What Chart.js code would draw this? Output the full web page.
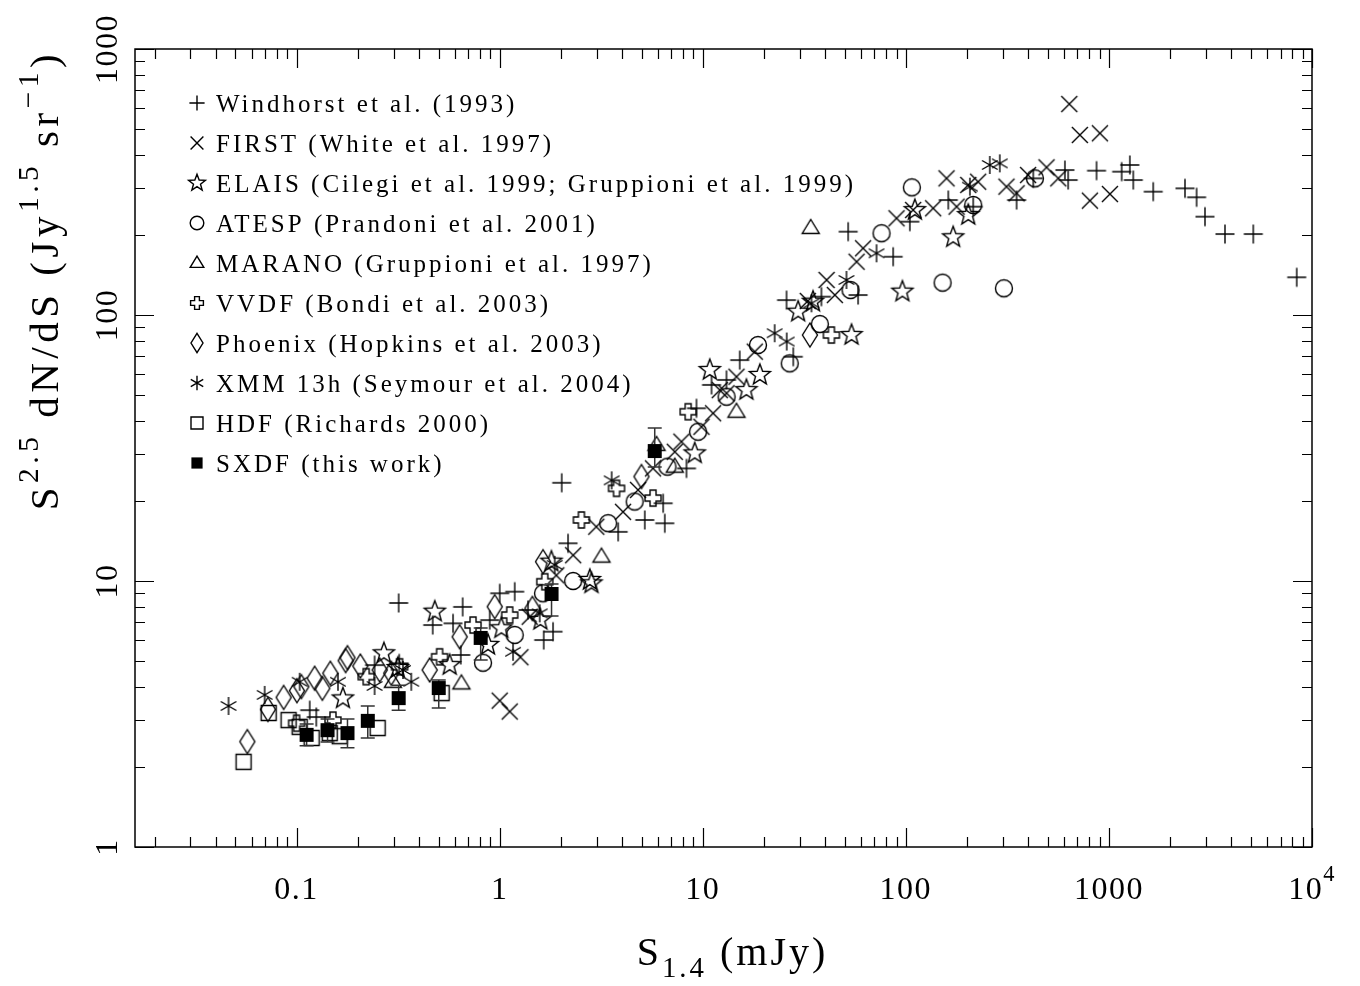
<!DOCTYPE html>
<html>
  <head>
    <meta charset="utf-8">
    <style type="text/css">
      body { margin: 0; background: #fff; }
      .chart-container { width: 1360px; height: 986px; }
    </style>
  </head>
  <body>
    <script src="https://cdn.jsdelivr.net/npm/chart.js@4.4.1/dist/chart.umd.min.js"></script>

    <div class="chart-container">
      <canvas id="countsChart" width="1360" height="986"></canvas>
    </div>

    <script>
      /* source counts, S (mJy) against S^2.5 dN/dS */
      const windhorstX = [0.318, 2.02, 0.468, 0.657, 0.589, 1.0, 1.186, 0.643, 0.893, 1.379, 1.647, 1.831, 0.116, 0.125, 0.242, 0.32,
        2.17, 5.18, 6.50, 6.38, 8.31, 3.83, 11.04, 9.31, 52.0, 86.6, 25.85, 15.2, 13.08, 38.4, 58.2, 27.9, 161.8, 104.6, 214.7,
        351, 424, 607, 630, 869, 1155, 1268, 1318, 1652, 2368, 2703, 2972, 3727, 5139, 8407];
      const windhorstY = [8.27, 23.4, 6.83, 7.99, 6.93, 8.99, 9.12, 5.27, 7.13, 7.78, 6.0, 6.45, 3.27, 3.08, 4.83, 4.9,
        13.86, 16.96, 16.48, 19.6, 26.5, 15.3, 54.6, 44.6, 205.7, 165.6, 113.8, 67.7, 57.0, 117.2, 118.9, 69.7, 270.5, 224.3, 255.4,
        270.5, 326.4, 350.8, 321.7, 348.8, 345.8, 366.4, 321.7, 290.8, 299.4, 277, 234.3, 201.6, 201.6, 138.6];

      const firstX = [1.0, 1.12, 1.265, 1.405, 1.90, 2.30, 2.99, 4.05, 4.80, 5.69, 7.28, 7.85, 9.85, 11.24, 13.09, 12.13, 14.65, 18.04,
        40.7, 44.7, 61.6, 57.2, 90.0, 108.6, 136.3, 32.9, 158.6, 177.8, 203, 227, 313, 351, 400, 493, 563, 638, 719, 903, 806, 1011];
      const firstY = [3.55, 3.23, 5.17, 7.34, 10.5, 12.5, 16.0, 18.2, 22.0, 26.5, 30.6, 33.4, 38.0, 42.7, 50.8, 52.2, 58.6, 72.8,
        135.4, 118.9, 178.2, 158.6, 231, 248.2, 251.9, 112.9, 326.4, 255.4, 308.2, 317, 303.7, 286.8, 335.9, 359, 326.4, 621, 475, 482, 269, 285];

      const elaisX = [0.479, 0.567, 0.876, 1.019, 1.587, 2.83, 0.269, 0.169, 0.315, 1.797, 2.78, 9.13, 10.83, 19.1, 16.4, 29.5,
        54.0, 96.2, 110.7, 171, 34.9, 203];
      const elaisY = [7.67, 4.83, 5.75, 6.64, 7.14, 9.8, 5.35, 3.62, 4.71, 11.82, 10.09, 30.2, 62.1, 59.5, 52.2, 102.9,
        84.1, 122.4, 248, 196, 112.2, 237.6];

      const atespX = [107, 151.7, 304, 214.7, 432, 75.9, 53.4, 37.7, 18.7, 26.8, 13.1, 9.48, 6.7, 4.62, 3.42, 2.3, 1.635, 1.186, 0.828];
      const atespY = [302, 132.3, 126, 259.2, 326.4, 203, 124.1, 92.5, 77.1, 65.8, 49.3, 36.4, 26.9, 19.9, 16.5, 10.0, 8.99, 6.27, 4.93];

      const maranoX = [34.0, 0.648, 3.17, 7.28, 14.65, 5.92, 0.298];
      const maranoY = [212.5, 4.12, 12.35, 26.9, 43.3, 32.5, 4.18];

      const vvdfX = [0.100, 0.151, 0.220, 0.3215, 0.506, 0.739, 1.12, 1.667, 3.76, 2.525, 5.69, 8.47, 43.0];
      const vvdfY = [2.92, 3.00, 4.37, 4.76, 5.19, 6.83, 7.45, 9.94, 22.3, 16.96, 20.5, 43.3, 84.1];

      const phoenixX = [0.0572, 0.0722, 0.0863, 0.1003, 0.1055, 0.1227, 0.1339, 0.1466, 0.1743, 0.178, 0.206, 0.2564, 0.2926,
        0.452, 0.635, 0.945, 1.449, 1.634, 4.99, 33.7];
      const phoenixY = [2.49, 3.29, 3.65, 3.87, 4.01, 4.31, 3.95, 4.50, 5.02, 5.15, 4.79, 4.63, 4.50,
        4.63, 6.17, 8.01, 7.89, 11.82, 24.7, 84.1];

      const xmmX = [0.0462, 0.0696, 0.1035, 0.1598, 0.242, 0.334, 0.367, 1.163, 1.574, 1.866, 3.56, 22.6, 25.9, 51.0, 71.7, 34.3,
        206.7, 259, 290];
      const xmmY = [3.39, 3.73, 4.18, 4.18, 4.03, 4.63, 4.18, 5.42, 7.56, 11.5, 23.9, 85.4, 79.5, 135.4, 170.6, 110.7,
        303.7, 366.4, 371.6];

      const hdfX = [0.0548, 0.0728, 0.0913, 0.1035, 0.1186, 0.1455, 0.163, 0.2507, 0.518];
      const hdfY = [2.09, 3.19, 3.00, 2.83, 2.57, 2.68, 2.61, 2.80, 3.79];

      const sxdfX = [0.112, 0.142, 0.178, 0.224, 0.318, 0.501, 0.806, 1.80, 5.80];
      const sxdfY = [2.64, 2.75, 2.68, 2.98, 3.63, 3.96, 6.11, 8.94, 30.8];
      const sxdfLo = [2.40, 2.48, 2.36, 2.57, 3.27, 3.33, 5.05, 7.39, 26.8];
      const sxdfHi = [2.90, 3.03, 3.03, 3.39, 4.06, 4.24, 6.66, 9.75, 37.6];

      const xTickValues = [0.1, 1, 10, 100, 1000, 10000];
      const xTickLabels = ['0.1', '1', '10', '100', '1000', '10^4'];
      const yTickValues = [1, 10, 100, 1000];
      const yTickLabels = ['1', '10', '100', '1000'];

      const FONT = '"Liberation Serif", serif';

      /* marker glyphs, drawn once into small canvases and used as point styles */
      const glyphs = {
        plus(c, k) { c.moveTo(-9.5 * k, 0); c.lineTo(9.5 * k, 0); c.moveTo(0, -9.5 * k); c.lineTo(0, 9.5 * k); c.stroke(); },
        times(c, k) { const a = 8 * k; c.moveTo(-a, -a); c.lineTo(a, a); c.moveTo(a, -a); c.lineTo(-a, a); c.stroke(); },
        star(c, k) {
          for (let i = 0; i < 10; i++) {
            const r = (i % 2 ? 4.6 : 11) * k, t = -Math.PI / 2 + i * Math.PI / 5;
            i ? c.lineTo(r * Math.cos(t), r * Math.sin(t)) : c.moveTo(r * Math.cos(t), r * Math.sin(t));
          }
          c.closePath(); c.stroke();
        },
        circle(c, k) { c.arc(0, 0, 8.5 * k, 0, Math.PI * 2); c.stroke(); },
        triangle(c, k) { c.moveTo(0, -8.5 * k); c.lineTo(8.5 * k, 5.5 * k); c.lineTo(-8.5 * k, 5.5 * k); c.closePath(); c.stroke(); },
        greek(c, k) {
          const a = 8 * k, b = 3 * k;
          const pts = [[-b, -a], [b, -a], [b, -b], [a, -b], [a, b], [b, b], [b, a], [-b, a], [-b, b], [-a, b], [-a, -b], [-b, -b]];
          pts.forEach((p, i) => i ? c.lineTo(p[0], p[1]) : c.moveTo(p[0], p[1]));
          c.closePath(); c.stroke();
        },
        diamond(c, k) { c.moveTo(0, -12 * k); c.lineTo(7.5 * k, 0); c.lineTo(0, 12 * k); c.lineTo(-7.5 * k, 0); c.closePath(); c.stroke(); },
        asterisk(c, k) {
          [90, 30, 150].forEach(d => {
            const t = d * Math.PI / 180, r = 9 * k;
            c.moveTo(-r * Math.cos(t), -r * Math.sin(t)); c.lineTo(r * Math.cos(t), r * Math.sin(t));
          });
          c.stroke();
        },
        square(c, k) { c.rect(-7.5 * k, -7.5 * k, 15 * k, 15 * k); c.stroke(); },
        filled(c, k) { c.rect(-7 * k, -7 * k, 14 * k, 14 * k); c.fill(); }
      };

      function glyphCanvas(kind, k) {
        const cv = document.createElement('canvas');
        cv.width = 30; cv.height = 30;
        const c = cv.getContext('2d');
        c.translate(15, 15);
        c.strokeStyle = '#000'; c.fillStyle = '#000'; c.lineWidth = 1.4;
        c.beginPath();
        glyphs[kind](c, k);
        return cv;
      }

      function pts(xs, ys) { return xs.map((x, i) => ({x: x, y: ys[i]})); }

      const series = [
        ['Windhorst et al. (1993)', 'plus', windhorstX, windhorstY],
        ['FIRST (White et al. 1997)', 'times', firstX, firstY],
        ['ELAIS (Cilegi et al. 1999; Gruppioni et al. 1999)', 'star', elaisX, elaisY],
        ['ATESP (Prandoni et al. 2001)', 'circle', atespX, atespY],
        ['MARANO (Gruppioni et al. 1997)', 'triangle', maranoX, maranoY],
        ['VVDF (Bondi et al. 2003)', 'greek', vvdfX, vvdfY],
        ['Phoenix (Hopkins et al. 2003)', 'diamond', phoenixX, phoenixY],
        ['XMM 13h (Seymour et al. 2004)', 'asterisk', xmmX, xmmY],
        ['HDF (Richards 2000)', 'square', hdfX, hdfY],
        ['SXDF (this work)', 'filled', sxdfX, sxdfY]
      ];

      const datasets = series.map(([label, kind, xs, ys], i) => ({
        label: label,
        data: pts(xs, ys),
        pointStyle: glyphCanvas(kind, 1),
        legendGlyph: glyphCanvas(kind, 0.8),
        pointRadius: 8,
        showLine: false,
        order: i === series.length - 1 ? 0 : 1
      }));
      const SXDF = datasets.length - 1;

      function logTicks(min, max) {
        const out = [];
        for (let e = Math.floor(Math.log10(min)); e <= Math.ceil(Math.log10(max)); e++) {
          for (let m = 1; m <= 9; m++) {
            const v = Number((m * Math.pow(10, e)).toPrecision(6));
            if (v >= min * 0.999 && v <= max * 1.001) out.push({v: v, major: m === 1});
          }
        }
        return out;
      }

      /* text with super/subscripts: parts are [text, size factor, rise factor] */
      function drawRich(ctx, parts, x, y, size, spacing) {
        ctx.letterSpacing = spacing + 'px';
        const widths = parts.map(p => { ctx.font = (size * p[1]) + 'px ' + FONT; return ctx.measureText(p[0]).width; });
        let cx = x - widths.reduce((a, b) => a + b, 0) / 2;
        parts.forEach((p, i) => {
          ctx.font = (size * p[1]) + 'px ' + FONT;
          ctx.fillText(p[0], cx, y - p[2] * size);
          cx += widths[i];
        });
      }

      function tickParts(label) {
        const s = label.split('^');
        return s.length > 1 ? [[s[0], 1, 0], [s[1], 0.7, 0.55]] : [[label, 1, 0]];
      }

      const errorBars = {
        id: 'errorBars',
        beforeDatasetDraw(chart, args) {
          if (args.index !== SXDF) return;
          const {ctx, scales: {x, y}} = chart;
          ctx.save();
          ctx.strokeStyle = '#333';
          ctx.lineWidth = 1.5;
          ctx.beginPath();
          sxdfX.forEach((v, i) => {
            const px = x.getPixelForValue(v), lo = y.getPixelForValue(sxdfLo[i]), hi = y.getPixelForValue(sxdfHi[i]);
            ctx.moveTo(px, lo); ctx.lineTo(px, hi);
            ctx.moveTo(px - 7, lo); ctx.lineTo(px + 7, lo);
            ctx.moveTo(px - 7, hi); ctx.lineTo(px + 7, hi);
          });
          ctx.stroke();
          ctx.restore();
        }
      };

      const frameAxes = {
        id: 'frameAxes',
        afterDraw(chart) {
          const {ctx, chartArea: a, scales: {x, y}} = chart;
          ctx.save();
          ctx.strokeStyle = '#000';
          ctx.fillStyle = '#000';
          ctx.lineWidth = 1.5;
          ctx.strokeRect(a.left, a.top, a.right - a.left, a.bottom - a.top);
          ctx.beginPath();
          logTicks(x.min, x.max).forEach(t => {
            const px = Math.round(x.getPixelForValue(t.v)) + 0.5, len = t.major ? 19 : 10;
            ctx.moveTo(px, a.bottom); ctx.lineTo(px, a.bottom - len);
            ctx.moveTo(px, a.top); ctx.lineTo(px, a.top + len);
          });
          logTicks(y.min, y.max).forEach(t => {
            const py = Math.round(y.getPixelForValue(t.v)) + 0.5, len = t.major ? 19 : 10;
            ctx.moveTo(a.left, py); ctx.lineTo(a.left + len, py);
            ctx.moveTo(a.right, py); ctx.lineTo(a.right - len, py);
          });
          ctx.lineWidth = 1.2;
          ctx.stroke();

          ctx.textAlign = 'left';
          ctx.textBaseline = 'alphabetic';
          xTickValues.forEach((v, i) => {
            drawRich(ctx, tickParts(xTickLabels[i]), x.getPixelForValue(v), a.bottom + 52, 32, 1.5);
          });
          yTickValues.forEach((v, i) => {
            ctx.save();
            ctx.translate(a.left - 18, y.getPixelForValue(v));
            ctx.rotate(-Math.PI / 2);
            drawRich(ctx, tickParts(yTickLabels[i]), 0, 0, 32, 1.5);
            ctx.restore();
          });

          // axis titles
          drawRich(ctx, [['S', 1, 0], ['1.4', 0.72, -0.3], [' (mJy)', 1, 0]], (a.left + a.right) / 2 + 9, a.bottom + 118, 40, 3);
          ctx.save();
          ctx.translate(58, 280);
          ctx.rotate(-Math.PI / 2);
          drawRich(ctx, [['S', 1, 0], ['2.5', 0.72, 0.5], [' dN/dS (Jy', 1, 0], ['1.5', 0.72, 0.5], [' sr', 1, 0], ['\u22121', 0.72, 0.5], [')', 1, 0]],
            0, 0, 41, 4.5);
          ctx.restore();

          // key
          ctx.font = '25px ' + FONT;
          ctx.letterSpacing = '3px';
          chart.data.datasets.forEach((ds, i) => {
            const cy = a.top + 54 + i * 40;
            ctx.drawImage(ds.legendGlyph, 197 - 15, cy - 15);
            ctx.fillText(ds.label, 216, cy + 9);
          });
          ctx.restore();
        }
      };

      const countsChart = new Chart('countsChart', {
        type: 'scatter',
        data: { datasets: datasets },
        options: {
          responsive: false,
          animation: false,
          layout: { padding: { left: 135, top: 49, right: 48, bottom: 139 } },
          plugins: { legend: { display: false }, tooltip: { enabled: false } },
          scales: {
            x: { type: 'logarithmic', min: 0.016, max: 10000, display: false },
            y: { type: 'logarithmic', min: 1, max: 1000, display: false }
          }
        },
        plugins: [errorBars, frameAxes]
      });
    </script>
  </body>
</html>
